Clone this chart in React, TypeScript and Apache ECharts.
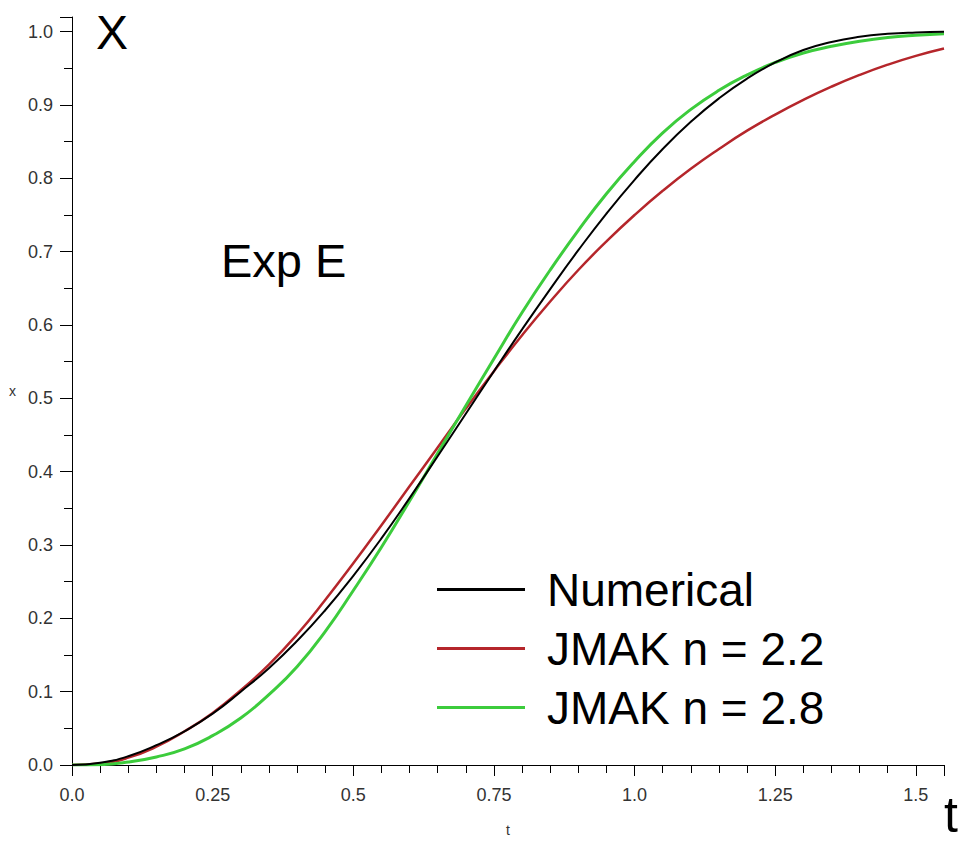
import React, { useEffect, useRef } from "react";
import * as echarts from "echarts";

const tValues = [
  0, 0.05, 0.1, 0.15, 0.2, 0.25, 0.3, 0.35, 0.4, 0.45, 0.5, 0.55, 0.6, 0.65, 0.7, 0.75,
  0.8, 0.85, 0.9, 0.95, 1.0, 1.05, 1.1, 1.15, 1.2, 1.25, 1.3, 1.35, 1.4, 1.45, 1.5, 1.55,
];

const numerical = [
  0, 0.003, 0.012, 0.027, 0.046, 0.07, 0.1, 0.132, 0.169, 0.211, 0.258, 0.309, 0.364, 0.421, 0.479, 0.537,
  0.594, 0.649, 0.702, 0.752, 0.798, 0.84, 0.877, 0.909, 0.936, 0.958, 0.975, 0.986, 0.993, 0.997, 0.999, 1.0,
];

const jmak22 = [
  0, 0.002, 0.01, 0.025, 0.046, 0.071, 0.102, 0.137, 0.178, 0.225, 0.275, 0.327, 0.38, 0.433, 0.486, 0.537,
  0.586, 0.632, 0.675, 0.714, 0.75, 0.783, 0.813, 0.84, 0.865, 0.887, 0.907, 0.925, 0.941, 0.955, 0.967, 0.977,
];

const jmak28 = [
  0, 0.0005, 0.004, 0.011, 0.022, 0.04, 0.064, 0.096, 0.134, 0.182, 0.238, 0.297, 0.36, 0.425, 0.49, 0.554,
  0.617, 0.675, 0.729, 0.779, 0.823, 0.862, 0.894, 0.92, 0.941, 0.958, 0.971, 0.98, 0.987, 0.992, 0.995, 0.997,
];

const seriesNames = ["Numerical", "JMAK n = 2.2", "JMAK n = 2.8"];
const seriesColors = ["#000000", "#b5262b", "#3ccc3c"];
const xTickLabels = ["0.0", "0.25", "0.5", "0.75", "1.0", "1.25", "1.5"];
const yTickLabels = ["0.0", "0.1", "0.2", "0.3", "0.4", "0.5", "0.6", "0.7", "0.8", "0.9", "1.0"];

const FONT = "'Liberation Sans', Arial, sans-serif";

export default function App() {
  const ref = useRef<HTMLDivElement>(null);

  useEffect(() => {
    if (!ref.current) return;
    const chart = echarts.init(ref.current, undefined, { renderer: "svg" });
    const pairs = (ys: number[]) => tValues.map((t, i) => [t, ys[i]]);
    const xLabelFor = (v: number) => {
      const idx = Math.round(v / 0.25);
      return Math.abs(idx * 0.25 - v) < 1e-6 && idx < xTickLabels.length ? xTickLabels[idx] : "";
    };
    const yLabelFor = (v: number) => {
      const idx = Math.round(v / 0.1);
      return Math.abs(idx * 0.1 - v) < 1e-6 && idx < yTickLabels.length ? yTickLabels[idx] : "";
    };
    chart.setOption({
      animation: false,
      backgroundColor: "#ffffff",
      textStyle: { fontFamily: FONT },
      grid: { left: 72, right: 20, top: 17, bottom: 71, containLabel: false },
      legend: {
        orient: "vertical",
        left: 437,
        top: 560,
        padding: 0,
        itemGap: 0,
        itemWidth: 88,
        itemHeight: 3,
        icon: "rect",
        data: seriesNames,
        textStyle: {
          fontFamily: FONT,
          fontSize: 46,
          color: "#000",
          lineHeight: 45,
          padding: [0, 0, 14, 17],
        },
      },
      xAxis: {
        type: "value",
        min: 0,
        max: 1.55,
        interval: 0.25,
        name: "t",
        nameLocation: "middle",
        nameGap: 58,
        nameTextStyle: { fontSize: 14, color: "#333", fontFamily: FONT },
        axisLine: { show: true, onZero: true, lineStyle: { color: "#000", width: 1 } },
        axisTick: { show: true, inside: false, length: 11, lineStyle: { color: "#000" } },
        minorTick: { show: true, splitNumber: 5, length: 8, lineStyle: { color: "#000" } },
        splitLine: { show: false },
        minorSplitLine: { show: false },
        axisLabel: {
          margin: 21,
          fontSize: 18,
          color: "#333",
          fontFamily: FONT,
          formatter: (v: number) => xLabelFor(v),
        },
      },
      yAxis: {
        type: "value",
        min: 0,
        max: 1.02,
        interval: 0.1,
        name: "x",
        nameLocation: "middle",
        nameRotate: 0,
        nameGap: 56,
        nameTextStyle: { fontSize: 14, color: "#333", fontFamily: FONT },
        axisLine: { show: true, lineStyle: { color: "#000", width: 1 } },
        axisTick: { show: true, inside: false, length: 12, lineStyle: { color: "#000" } },
        minorTick: { show: true, splitNumber: 2, length: 8, lineStyle: { color: "#000" } },
        splitLine: { show: false },
        minorSplitLine: { show: false },
        axisLabel: {
          margin: 19,
          fontSize: 18,
          color: "#333",
          fontFamily: FONT,
          formatter: (v: number) => yLabelFor(v),
        },
      },
      graphic: [
        {
          type: "text",
          left: 96,
          top: 8,
          style: { text: "X", fontSize: 48, fontFamily: FONT, fill: "#000" },
        },
        {
          type: "text",
          left: 221,
          top: 237,
          style: { text: "Exp E", fontSize: 47, fontFamily: FONT, fill: "#000" },
        },
        {
          type: "text",
          left: 944,
          top: 790,
          style: { text: "t", fontSize: 50, fontFamily: FONT, fill: "#000" },
        },
      ],
      series: [
        {
          name: seriesNames[1],
          type: "line",
          data: pairs(jmak22),
          smooth: true,
          showSymbol: false,
          lineStyle: { color: seriesColors[1], width: 2.5 },
          itemStyle: { color: seriesColors[1] },
        },
        {
          name: seriesNames[2],
          type: "line",
          data: pairs(jmak28),
          smooth: true,
          showSymbol: false,
          lineStyle: { color: seriesColors[2], width: 3 },
          itemStyle: { color: seriesColors[2] },
        },
        {
          name: seriesNames[0],
          type: "line",
          data: pairs(numerical),
          smooth: true,
          showSymbol: false,
          lineStyle: { color: seriesColors[0], width: 2 },
          itemStyle: { color: seriesColors[0] },
        },
      ],
    });
    return () => chart.dispose();
  }, []);

  return <div ref={ref} style={{ width: 964, height: 842, position: "absolute", left: 0, top: 0 }} />;
}
